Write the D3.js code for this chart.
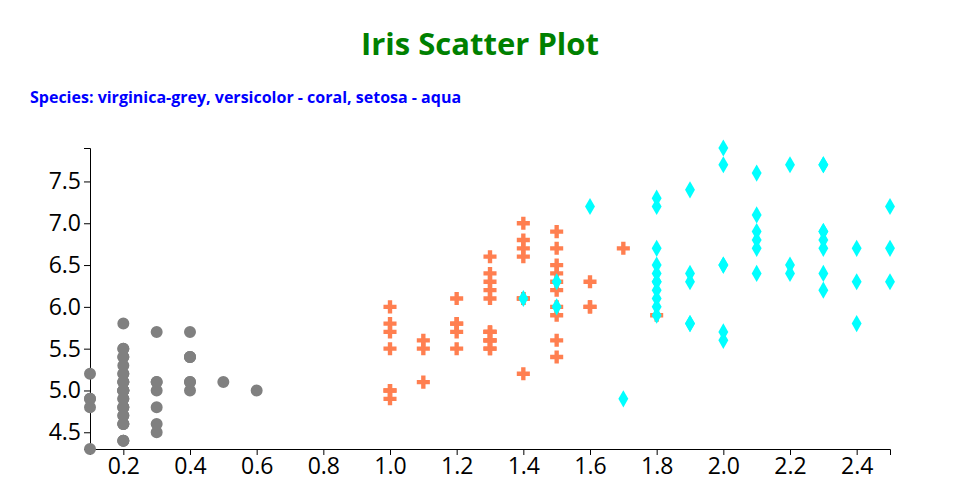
<!DOCTYPE html>
<html><head><meta charset="utf-8">
<script src="https://d3js.org/d3.v7.min.js"></script>
<style>body{margin:0;background:#fff;} text{font-family:"Open Sans",sans-serif;}</style>
</head><body>
<svg id="chart" width="960" height="500"></svg>
<script>
// Iris: sepal length (y) vs petal width (x)
const setosaPetalWidth = [0.2,0.2,0.2,0.2,0.2,0.4,0.3,0.2,0.2,0.1,0.2,0.2,0.1,0.1,0.2,0.4,0.4,0.3,0.3,0.3,0.2,0.4,0.2,0.5,0.2,0.2,0.4,0.2,0.2,0.2,0.2,0.4,0.1,0.2,0.2,0.2,0.2,0.1,0.2,0.2,0.3,0.3,0.2,0.6,0.4,0.3,0.2,0.2,0.2,0.2];
const setosaSepalLength = [5.1,4.9,4.7,4.6,5.0,5.4,4.6,5.0,4.4,4.9,5.4,4.8,4.8,4.3,5.8,5.7,5.4,5.1,5.7,5.1,5.4,5.1,4.6,5.1,4.8,5.0,5.0,5.2,5.2,4.7,4.8,5.4,5.2,5.5,4.9,5.0,5.5,4.9,4.4,5.1,5.0,4.5,4.4,5.0,5.1,4.8,5.1,4.6,5.3,5.0];
const versicolorPetalWidth = [1.4,1.5,1.5,1.3,1.5,1.3,1.6,1.0,1.3,1.4,1.0,1.5,1.0,1.4,1.3,1.4,1.5,1.0,1.5,1.1,1.8,1.3,1.5,1.2,1.3,1.4,1.4,1.7,1.5,1.0,1.1,1.0,1.2,1.6,1.5,1.6,1.5,1.3,1.3,1.3,1.2,1.4,1.2,1.0,1.3,1.2,1.3,1.3,1.1,1.3];
const versicolorSepalLength = [7.0,6.4,6.9,5.5,6.5,5.7,6.3,4.9,6.6,5.2,5.0,5.9,6.0,6.1,5.6,6.7,5.6,5.8,6.2,5.6,5.9,6.1,6.3,6.1,6.4,6.6,6.8,6.7,6.0,5.7,5.5,5.5,5.8,6.0,5.4,6.0,6.7,6.3,5.6,5.5,5.5,6.1,5.8,5.0,5.6,5.7,5.7,6.2,5.1,5.7];
const virginicaPetalWidth = [2.5,1.9,2.1,1.8,2.2,2.1,1.7,1.8,1.8,2.5,2.0,1.9,2.1,2.0,2.4,2.3,1.8,2.2,2.3,1.5,2.3,2.0,2.0,1.8,2.1,1.8,1.8,1.8,2.1,1.6,1.9,2.0,2.2,1.5,1.4,2.3,2.4,1.8,1.8,2.1,2.4,2.3,1.9,2.3,2.5,2.3,1.9,2.0,2.3,1.8];
const virginicaSepalLength = [6.3,5.8,7.1,6.3,6.5,7.6,4.9,7.3,6.7,7.2,6.5,6.4,6.8,5.7,5.8,6.4,6.5,7.7,7.7,6.0,6.9,5.6,7.7,6.3,6.7,7.2,6.2,6.1,6.4,7.2,7.4,7.9,6.4,6.3,6.1,7.7,6.3,6.4,6.0,6.9,6.7,6.9,5.8,6.8,6.7,6.7,6.3,6.5,6.2,5.9];
const xTicks = [0.2,0.4,0.6,0.8,1.0,1.2,1.4,1.6,1.8,2.0,2.2,2.4];
const yTicks = [4.5,5.0,5.5,6.0,6.5,7.0,7.5];
const titleText = "Iris Scatter Plot";
const subtitleText = "Species: virginica-grey, versicolor - coral, setosa - aqua";

const series = [
  {x: setosaPetalWidth, y: setosaSepalLength, color: "grey", type: "circle"},
  {x: versicolorPetalWidth, y: versicolorSepalLength, color: "coral", type: "cross"},
  {x: virginicaPetalWidth, y: virginicaSepalLength, color: "aqua", type: "diamond"}
];

const svg = d3.select("#chart");
const allX = series.flatMap(s => s.x), allY = series.flatMap(s => s.y);
const x = d3.scaleLinear().domain(d3.extent(allX)).range([90, 890]);
const y = d3.scaleLinear().domain(d3.extent(allY)).range([449, 148]);

svg.append("text").attr("x", 480).attr("y", 55).attr("text-anchor", "middle")
  .attr("fill", "green").attr("font-weight", "bold").attr("font-size", 31).text(titleText);
svg.append("text").attr("x", 30).attr("y", 103)
  .attr("fill", "blue").attr("font-weight", "bold").attr("font-size", 16).text(subtitleText);

const gx = svg.append("g").attr("transform", "translate(0,449)")
  .call(d3.axisBottom(x).tickValues(xTicks).tickFormat(d3.format(".1f")));
const gy = svg.append("g").attr("transform", "translate(90,0)")
  .call(d3.axisLeft(y).tickValues(yTicks).tickFormat(d3.format(".1f")));
[gx, gy].forEach(g => g.selectAll("text").attr("font-size", 23).attr("font-family", "Open Sans").attr("fill", "#000"));

const sym = {
  circle: d3.symbol().type(d3.symbolCircle).size(113),
  cross: d3.symbol().type(d3.symbolCross).size(95),
  diamond: d3.symbol().type(d3.symbolDiamond).size(85)
};
series.forEach(s => {
  svg.append("g").selectAll("path").data(d3.range(s.x.length)).join("path")
    .attr("d", sym[s.type])
    .attr("transform", i => `translate(${x(s.x[i])},${y(s.y[i])})`)
    .attr("fill", s.color);
});
</script>
</body></html>
